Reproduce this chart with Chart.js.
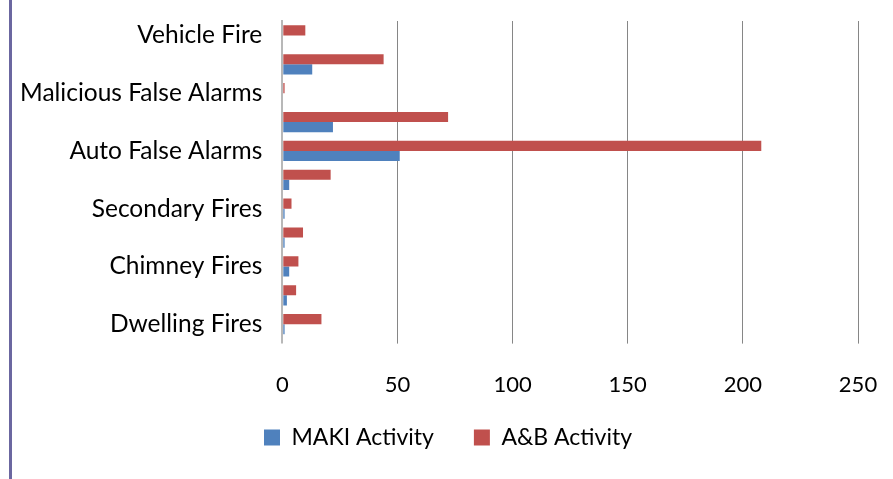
<!DOCTYPE html>
<html>
<head>
<meta charset="utf-8">
<script src="https://cdn.jsdelivr.net/npm/chart.js@4.4.1/dist/chart.umd.min.js"></script>
<style>
  body { margin: 0; background: #fff; }
  #wrap { position: relative; width: 893px; height: 479px; }
  #bar { position: absolute; left: 9px; top: 0; width: 3px; height: 479px; background: #6b67a0; }
</style>
</head>
<body>
<div id="wrap">
  <div id="bar"></div>
  <canvas id="myChart"></canvas>
</div>
<script>
// categories, top to bottom (every other label is hidden in the original)
const categories = ['Vehicle Fire', '', 'Malicious False Alarms', '', 'Auto False Alarms', '',
  'Secondary Fires', '', 'Chimney Fires', '', 'Dwelling Fires'];
const makiActivity = [0, 13, 0, 22, 51, 3, 1, 1, 3, 2, 1];
const abActivity = [10, 44, 1, 72, 208, 21, 4, 9, 7, 6, 17];
const xTicks = [0, 50, 100, 150, 200, 250];

const font = 'Lato, "Open Sans", sans-serif';

const data = {
  labels: categories,
  datasets: [
    // A&B first so it sits above the MAKI bar in each row
    { label: 'A&B Activity', data: abActivity, backgroundColor: '#c0504d' },
    { label: 'MAKI Activity', data: makiActivity, backgroundColor: '#4f81bd' }
  ]
};

new Chart(document.getElementById('myChart'), {
  type: 'bar',
  data: data,
  options: {
    indexAxis: 'y',
    responsive: true,
    maintainAspectRatio: false,
    animation: false,
    datasets: { bar: { categoryPercentage: 0.7, barPercentage: 1 } },
    layout: { padding: { left: 8, right: 5, top: 21, bottom: 20 } },
    scales: {
      x: {
        min: 0, max: 250,
        afterBuildTicks: (axis) => { axis.ticks = xTicks.map(v => ({ value: v })) },
        // pull the legend up closer to the tick labels (and don't clip the labels)
        afterFit: (axis) => {
          axis.height -= 40
          axis.paddingLeft = 0
          axis.paddingRight = 35
          axis._computeLabelArea = () => undefined
        },
        grid: {
          color: (c) => c.tick && c.tick.value === 0 ? '#b8b8b8' : '#868686',
          lineWidth: (c) => c.tick && c.tick.value === 0 ? 2 : 1,
          tickLength: 5
        },
        border: { display: false },
        ticks: { color: '#000', font: { family: font, size: 22 }, padding: 28 }
      },
      y: {
        afterFit: (axis) => { axis.paddingTop = 0; axis.paddingBottom = 0 },
        grid: { display: false },
        border: { display: true, color: '#b8b8b8', width: 2 },
        ticks: { color: '#000', font: { family: font, size: 24.5 }, padding: 12, autoSkip: false }
      }
    },
    plugins: {
      legend: {
        position: 'bottom',
        reverse: true,
        labels: {
          color: '#000',
          font: { family: font, size: 23 },
          boxWidth: 16,
          boxHeight: 16,
          padding: 40
        }
      },
      tooltip: { enabled: false }
    }
  }
});
</script>
</body>
</html>
